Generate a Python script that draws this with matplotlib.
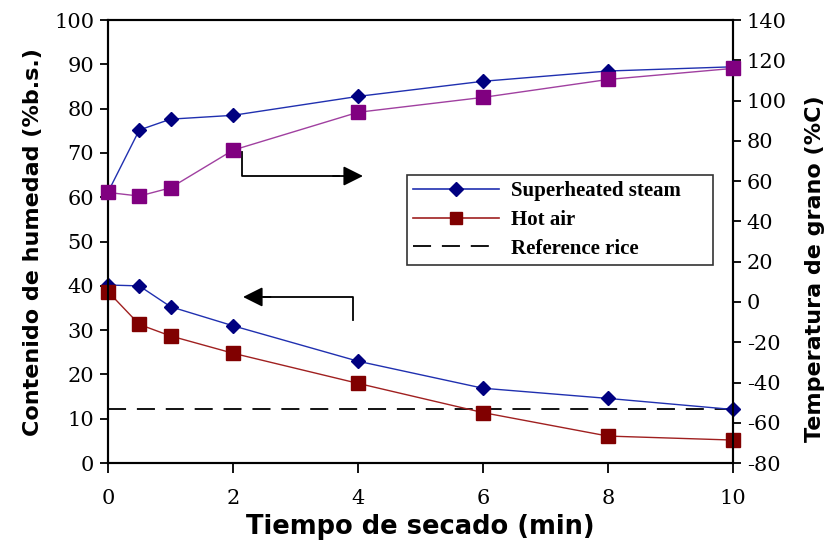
import matplotlib.pyplot as plt
from matplotlib.patches import FancyArrowPatch
from matplotlib.lines import Line2D

# drying time (min)
tiempo = [0, 0.5, 1, 2, 4, 6, 8, 10]

# moisture content (% d.b.) - left axis
hum_steam = [40.2, 40.0, 35.3, 31.0, 23.0, 16.9, 14.6, 12.1]
hum_air = [38.7, 31.3, 28.7, 24.8, 18.0, 11.4, 6.1, 5.2]
hum_ref = 12.3

# grain temperature - right axis
temp_steam = [54.6, 85.4, 90.8, 92.7, 102.1, 109.6, 114.7, 116.8]
temp_air = [54.4, 52.6, 56.7, 75.4, 94.2, 101.6, 110.5, 116.0]

plt.rcParams["axes.unicode_minus"] = False
tick_font = "DejaVu Serif"
label_font = "DejaVu Sans"
legend_font = "Liberation Serif"

fig = plt.figure(figsize=(8.31, 5.5), dpi=100)
ax = fig.add_axes([0.13, 0.158, 0.752, 0.8055])
ax2 = ax.twinx()

blue = "#000080"
red = "#800000"
purple = "#800080"

# moisture curves
ax.plot(tiempo, hum_steam, color="#2030b0", lw=1.0, marker="D", ms=7.5,
        mfc=blue, mec=blue, zorder=3, clip_on=False)
ax.plot(tiempo, hum_air, color="#a02020", lw=1.0, marker="s", ms=9.5,
        mfc=red, mec=red, zorder=3, clip_on=False)
ax.axhline(hum_ref, color="black", lw=1.3, dashes=(10, 6), zorder=2)

# temperature curves
ax2.plot(tiempo, temp_steam, color="#2030b0", lw=1.0, marker="D", ms=7.5,
         mfc=blue, mec=blue, zorder=3, clip_on=False)
ax2.plot(tiempo, temp_air, color="#a040a0", lw=1.0, marker="s", ms=9.5,
         mfc=purple, mec=purple, zorder=3, clip_on=False)

ax.set_xlim(0, 10)
ax.set_ylim(0, 100)
ax2.set_ylim(-80, 140)
ax.set_xticks([0, 2, 4, 6, 8, 10])
ax.set_yticks(range(0, 101, 10))
ax2.set_yticks(range(-80, 141, 20))

for a in (ax, ax2):
    for s in a.spines.values():
        s.set_linewidth(1.5)
    a.tick_params(direction="out", length=6, width=1.3, labelsize=15, pad=4)
    for lbl in a.get_xticklabels() + a.get_yticklabels():
        lbl.set_fontfamily(tick_font)
ax.tick_params(axis="x", length=7, pad=12)

ax.set_xlabel("Tiempo de secado (min)", fontsize=18.5, fontweight="bold",
              family=label_font, labelpad=4)
ax.set_ylabel("Contenido de humedad (%b.s.)", fontsize=16, fontweight="bold",
              family=label_font, labelpad=8)
ax2.set_ylabel("Temperatura de grano (%C)", fontsize=16, fontweight="bold",
               family=label_font)
ax2.yaxis.set_label_coords(1.115, 0.438)

# arrow pointing to the right axis
ax.plot([2.14, 2.14, 3.7], [70.2, 64.8, 64.8], color="black", lw=1.3)
ax.add_patch(FancyArrowPatch((3.6, 64.8), (4.08, 64.8), arrowstyle="-|>",
                             mutation_scale=30, color="black", lw=1.3,
                             shrinkA=0, shrinkB=0))

# arrow pointing to the left axis
ax.plot([3.92, 3.92, 2.5], [32.3, 37.5, 37.5], color="black", lw=1.3)
ax.add_patch(FancyArrowPatch((2.6, 37.5), (2.16, 37.5), arrowstyle="-|>",
                             mutation_scale=30, color="black", lw=1.3,
                             shrinkA=0, shrinkB=0))

handles = [
    Line2D([], [], color="#2030b0", lw=1.2, marker="D", ms=7.5, mfc=blue, mec=blue),
    Line2D([], [], color="#a02020", lw=1.2, marker="s", ms=9, mfc=red, mec=red),
    Line2D([], [], color="black", lw=1.3, dashes=(10, 6)),
]
labels = ["Superheated steam", "Hot air", "Reference rice"]
leg = ax2.legend(handles, labels, loc="upper left", mode="expand",
                 bbox_to_anchor=(0.4898, 0.5218, 0.368, 0.16),
                 bbox_transform=fig.transFigure,
                 borderaxespad=0, frameon=True, fancybox=False,
                 handlelength=4.1, handletextpad=0.58, labelspacing=0.42,
                 borderpad=0.3,
                 prop={"family": legend_font, "weight": "bold", "size": 15})
leg.get_frame().set_edgecolor("black")
leg.get_frame().set_linewidth(1.2)

plt.savefig("out.png", dpi=100)
